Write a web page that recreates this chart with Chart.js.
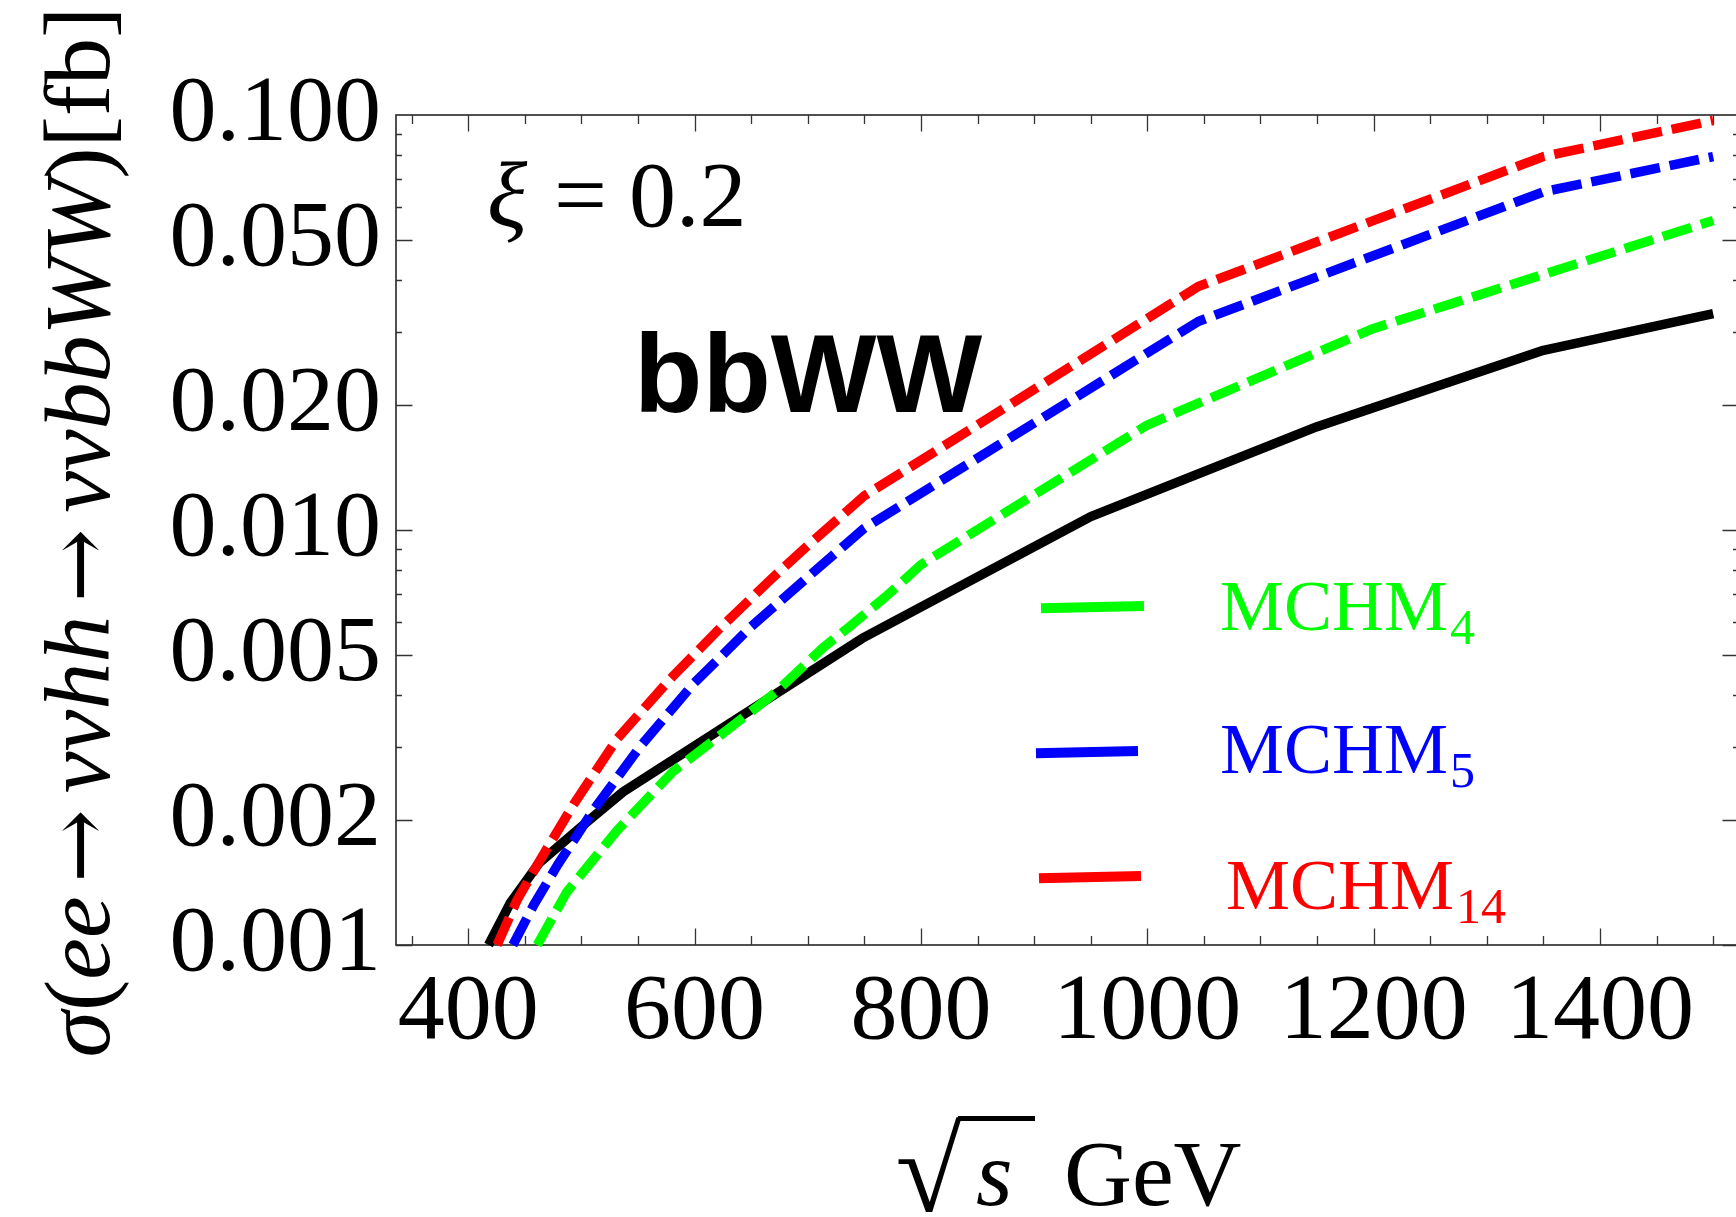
<!DOCTYPE html>
<html>
<head>
<meta charset="utf-8">
<title>σ(ee→ννhh→ννbbWW) vs √s</title>
<script src="https://cdn.jsdelivr.net/npm/chart.js@4/dist/chart.umd.min.js"></script>
<style>
  html, body { margin: 0; padding: 0; background: #fff; overflow: hidden; }
  #plot { display: block; }
</style>
</head>
<body>
<canvas id="plot" width="1739" height="1217"></canvas>
<script>
// √s [GeV] and σ [fb] for each curve
const smX      = [418, 437, 463, 505, 537, 748, 950, 1150, 1350, 1500];
const smY      = [0.00100, 0.00126, 0.00158, 0.00198, 0.00234, 0.00548, 0.01077, 0.01774, 0.0271, 0.0332];

const mchm4X   = [461, 487, 531, 581, 634, 671, 714, 737, 770, 800, 1000, 1200, 1500];
const mchm4Y   = [0.00100, 0.00134, 0.00188, 0.00262, 0.00338, 0.00405, 0.00522, 0.00585, 0.00695, 0.00825, 0.0179, 0.0306, 0.0557];

const mchm5X   = [439.5, 458, 479, 511, 552, 599, 650, 700, 750, 1045, 1350, 1500];
const mchm5Y   = [0.00100, 0.00125, 0.00156, 0.00212, 0.00301, 0.00426, 0.00585, 0.0077, 0.0101, 0.0318, 0.0653, 0.0794];

const mchm14X  = [425.5, 443, 461, 493, 532, 579, 623, 670, 700, 750, 1045, 1350, 1500];
const mchm14Y  = [0.00100, 0.00128, 0.00156, 0.00218, 0.00315, 0.00439, 0.00582, 0.00772, 0.00917, 0.01209, 0.0386, 0.0794, 0.0970];

// axis ticks
const xTickValues = [400, 600, 800, 1000, 1200, 1400];
const yTickValues = [0.001, 0.002, 0.005, 0.01, 0.02, 0.05, 0.1];

const SERIF = '"Liberation Serif", "Times New Roman", "DejaVu Serif", serif';
const SANS  = '"Liberation Sans", Arial, "DejaVu Sans", sans-serif';

const pts = (xs, ys) => xs.map((x, i) => ({ x, y: ys[i] }));

const LINE_W = 9.5;
const DASH = [30, 10];

const datasets = [
  { label: 'MCHM4',  data: pts(mchm4X, mchm4Y),   borderColor: '#00ff00', borderDash: DASH, inLegend: true },
  { label: 'MCHM5',  data: pts(mchm5X, mchm5Y),   borderColor: '#0000ff', borderDash: DASH, inLegend: true },
  { label: 'MCHM14', data: pts(mchm14X, mchm14Y), borderColor: '#ff0000', borderDash: DASH, inLegend: true },
  { label: 'SM',     data: pts(smX, smY),         borderColor: '#000000', borderDash: [],   inLegend: false }
].map(d => Object.assign(d, {
  borderWidth: LINE_W,
  pointRadius: 0,
  tension: 0,
  fill: false,
  clip: false,
  borderCapStyle: 'butt',
  borderJoinStyle: 'round'
}));

function zeroPadding(scale) {
  scale.paddingLeft = scale.paddingRight = scale.paddingTop = scale.paddingBottom = 0;
}

// frame with inward ticks on all four sides
const framePlugin = {
  id: 'frame',
  beforeDatasetsDraw(chart) {
    const { ctx, chartArea: a, scales: { x, y } } = chart;
    ctx.save();
    ctx.strokeStyle = '#333';
    ctx.lineWidth = 1.3;
    ctx.beginPath();
    for (let v = 350; v <= 1500; v += 50) {
      const px = Math.round(x.getPixelForValue(v)) + 0.5;
      const len = (v % 200 === 0) ? 16.5 : 9;
      ctx.moveTo(px, a.bottom); ctx.lineTo(px, a.bottom - len);
      ctx.moveTo(px, a.top);    ctx.lineTo(px, a.top + len);
    }
    for (const dec of [0.001, 0.01]) {
      for (let m = 1; m <= 9; m++) {
        const py = Math.round(y.getPixelForValue(dec * m)) + 0.5;
        const len = (m === 1 || m === 2 || m === 5) ? 16.5 : 6;
        ctx.moveTo(a.left, py);  ctx.lineTo(a.left + len, py);
        ctx.moveTo(a.right, py); ctx.lineTo(a.right - len, py);
      }
    }
    ctx.stroke();
    ctx.lineWidth = 1.7;
    ctx.strokeRect(a.left, a.top, a.right - a.left, a.bottom - a.top);
    ctx.restore();
  }
};

// axis titles, annotations and the legend
const textPlugin = {
  id: 'texts',
  afterDraw(chart) {
    const { ctx, chartArea: a } = chart;
    ctx.save();
    ctx.fillStyle = '#000';
    ctx.textBaseline = 'alphabetic';
    ctx.textAlign = 'left';

    // vertical title; arrows get a long glyph and operator spacing
    const F = 94;
    const up = `${F}px ${SERIF}`, it = `italic ${F}px ${SERIF}`;
    const arrowFont = `80px "DejaVu Serif", "DejaVu Sans", serif`;
    const ARROW_W = 67, ARROW_ADV = 103;
    const pieces = [
      ['σ', it], ['(', up], ['ee', it], ['→', arrowFont, true], ['νν', it], ['hh', it],
      ['→', arrowFont, true], ['νν', it], ['bbWW', it], [')', up], ['[fb]', up]
    ];
    const adv = ([t, f, arrow]) => { ctx.font = f; return arrow ? ARROW_ADV : ctx.measureText(t).width; };
    const total = pieces.reduce((s, p) => s + adv(p), 0);
    ctx.save();
    ctx.translate(109, (a.top + a.bottom) / 2 + 2);
    ctx.rotate(-Math.PI / 2);
    let cx = -total / 2;
    for (const p of pieces) {
      const [t, f, arrow] = p;
      ctx.font = f;
      if (arrow) {
        const m = ctx.measureText(t);
        const gw = Math.max(1, m.actualBoundingBoxLeft + m.actualBoundingBoxRight);
        const k = ARROW_W / gw;
        ctx.save();
        ctx.translate(cx + (ARROW_ADV - ARROW_W) / 2, 0);
        ctx.scale(k, k);
        ctx.fillText(t, m.actualBoundingBoxLeft, 0);
        ctx.restore();
      } else {
        ctx.fillText(t, cx, 0);
      }
      cx += adv(p);
    }
    ctx.restore();

    // horizontal title: √s GeV
    const base = 1205;
    ctx.font = `100px ${SERIF}`;
    const m = ctx.measureText('√');
    const gh = m.actualBoundingBoxAscent + m.actualBoundingBoxDescent;
    const gw = m.actualBoundingBoxLeft + m.actualBoundingBoxRight;
    const rTop = 1116, rBot = 1212, rLeft = 898, rRight = 962;
    ctx.save();
    ctx.translate(rLeft, rTop);
    ctx.scale((rRight - rLeft) / gw, (rBot - rTop) / gh);
    ctx.fillText('√', m.actualBoundingBoxLeft, m.actualBoundingBoxAscent);
    ctx.restore();
    ctx.fillRect(rRight - 4, rTop, 1035 - (rRight - 4), 5);
    ctx.font = `italic 94px ${SERIF}`;
    ctx.fillText('s', 976, base);
    ctx.font = `94px ${SERIF}`;
    ctx.fillText('GeV', 1064, base);

    // parameter value
    ctx.font = `italic 94px ${SERIF}`;
    ctx.fillText('ξ', 487, 226);
    ctx.font = `94px ${SERIF}`;
    ctx.fillText('=', 554, 226);
    ctx.fillText('0.2', 629, 226);

    // channel tag
    ctx.font = `bold 112px ${SANS}`;
    ctx.fillText('bbWW', 634, 412);

    // legend
    const rows = [
      { line: [1041, 608.3, 1144, 606], text: [1220, 630] },
      { line: [1036, 753.3, 1138, 751], text: [1220, 773] },
      { line: [1039, 878.3, 1141, 876], text: [1226, 909] }
    ];
    const legendSets = chart.data.datasets.filter(d => d.inLegend);
    legendSets.forEach((d, i) => {
      const r = rows[i];
      ctx.strokeStyle = d.borderColor;
      ctx.fillStyle = d.borderColor;
      ctx.lineWidth = 10;
      ctx.lineCap = 'butt';
      ctx.setLineDash([]);
      ctx.beginPath();
      ctx.moveTo(r.line[0], r.line[1]);
      ctx.lineTo(r.line[2], r.line[3]);
      ctx.stroke();
      const [, name, sub] = d.label.match(/^(\D+)(\d+)$/);
      ctx.font = `72px ${SERIF}`;
      ctx.fillText(name, r.text[0], r.text[1]);
      const w = ctx.measureText(name).width;
      ctx.font = `50px ${SERIF}`;
      ctx.fillText(sub, r.text[0] + w + 2, r.text[1] + 14);
    });
    ctx.restore();
  }
};

new Chart(document.getElementById('plot').getContext('2d'), {
  type: 'line',
  data: { datasets },
  options: {
    responsive: false,
    animation: false,
    devicePixelRatio: 1,
    layout: { padding: { top: 115, left: 0, right: 0, bottom: 0 } },
    plugins: { legend: { display: false }, tooltip: { enabled: false } },
    scales: {
      x: {
        type: 'linear',
        min: 336.2,
        max: 1522.8,
        grid: { display: false, drawTicks: false },
        border: { display: false },
        afterBuildTicks: s => { s.ticks = xTickValues.map(v => ({ value: v })); },
        afterFit: s => { s.height = 272; zeroPadding(s); },
        ticks: {
          font: { family: SERIF, size: 94 },
          color: '#000',
          padding: 11.6,
          maxRotation: 0,
          autoSkip: false,
          callback: v => String(v)
        }
      },
      y: {
        type: 'logarithmic',
        min: 0.001,
        max: 0.1,
        grid: { display: false, drawTicks: false },
        border: { display: false },
        afterBuildTicks: s => { s.ticks = yTickValues.map(v => ({ value: v })); },
        afterFit: s => { s.width = 396; zeroPadding(s); },
        ticks: {
          font: { family: SERIF, size: 94 },
          color: '#000',
          padding: 15,
          autoSkip: false,
          callback: v => Number(v).toFixed(3)
        }
      }
    }
  },
  plugins: [framePlugin, textPlugin]
});
</script>
</body>
</html>
